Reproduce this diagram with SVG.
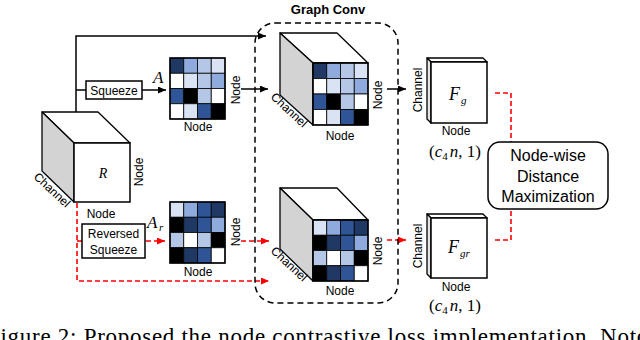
<svg xmlns="http://www.w3.org/2000/svg" width="640" height="340" viewBox="0 0 640 340">
<style>
.lbl{font-family:"Liberation Sans",Arial,sans-serif;font-size:12px;fill:#000}
.big{font-family:"Liberation Sans",Arial,sans-serif;font-size:16px;fill:#000}
.math{font-family:"Liberation Serif","Times New Roman",serif;font-style:italic;fill:#000}
.mathu{font-family:"Liberation Serif","Times New Roman",serif;fill:#000}
.edge{fill:none;stroke:#000;stroke-width:1.5}
.red{fill:none;stroke:#f00;stroke-width:1.6;stroke-dasharray:5 3}
.side{fill:#d3d3d3;stroke:#000;stroke-width:1.3;stroke-linejoin:round}
.top{fill:#fff;stroke:#000;stroke-width:1.3;stroke-linejoin:round}
.front{fill:#fff;stroke:#000;stroke-width:1.5}
.cell{stroke:#000;stroke-width:0.8}
.nv{fill:#203864}.bl{fill:#2f5597}.md{fill:#8faadc}.lt{fill:#b4c7e7}.vl{fill:#dae3f3}.wh{fill:#fff}.bk{fill:#000}
</style>
<defs>
<marker id="ah" markerUnits="userSpaceOnUse" markerWidth="8" markerHeight="7" refX="8" refY="3.5" orient="auto"><path d="M0,0 L8,3.5 L0,7 z" fill="#000"/></marker>
<marker id="ahr" markerUnits="userSpaceOnUse" markerWidth="8" markerHeight="7" refX="8" refY="3.5" orient="auto"><path d="M0,0 L8,3.5 L0,7 z" fill="#f00"/></marker>
<g id="matA">
<rect class="cell nv" x="0" y="0" width="13.75" height="15.25"/><rect class="cell md" x="13.75" y="0" width="13.75" height="15.25"/><rect class="cell lt" x="27.5" y="0" width="13.75" height="15.25"/><rect class="cell vl" x="41.25" y="0" width="13.75" height="15.25"/>
<rect class="cell wh" x="0" y="15.25" width="13.75" height="15.25"/><rect class="cell vl" x="13.75" y="15.25" width="13.75" height="15.25"/><rect class="cell lt" x="27.5" y="15.25" width="13.75" height="15.25"/><rect class="cell md" x="41.25" y="15.25" width="13.75" height="15.25"/>
<rect class="cell bl" x="0" y="30.5" width="13.75" height="15.25"/><rect class="cell bk" x="13.75" y="30.5" width="13.75" height="15.25"/><rect class="cell lt" x="27.5" y="30.5" width="13.75" height="15.25"/><rect class="cell wh" x="41.25" y="30.5" width="13.75" height="15.25"/>
<rect class="cell wh" x="0" y="45.75" width="13.75" height="15.25"/><rect class="cell vl" x="13.75" y="45.75" width="13.75" height="15.25"/><rect class="cell bl" x="27.5" y="45.75" width="13.75" height="15.25"/><rect class="cell bk" x="41.25" y="45.75" width="13.75" height="15.25"/>
<rect x="0" y="0" width="55" height="61" fill="none" stroke="#000" stroke-width="1.5"/>
</g>
<g id="matAr">
<rect class="cell vl" x="0" y="0" width="13.75" height="15.25"/><rect class="cell md" x="13.75" y="0" width="13.75" height="15.25"/><rect class="cell bl" x="27.5" y="0" width="13.75" height="15.25"/><rect class="cell nv" x="41.25" y="0" width="13.75" height="15.25"/>
<rect class="cell bk" x="0" y="15.25" width="13.75" height="15.25"/><rect class="cell nv" x="13.75" y="15.25" width="13.75" height="15.25"/><rect class="cell bl" x="27.5" y="15.25" width="13.75" height="15.25"/><rect class="cell md" x="41.25" y="15.25" width="13.75" height="15.25"/>
<rect class="cell lt" x="0" y="30.5" width="13.75" height="15.25"/><rect class="cell wh" x="13.75" y="30.5" width="13.75" height="15.25"/><rect class="cell lt" x="27.5" y="30.5" width="13.75" height="15.25"/><rect class="cell bk" x="41.25" y="30.5" width="13.75" height="15.25"/>
<rect class="cell bk" x="0" y="45.75" width="13.75" height="15.25"/><rect class="cell nv" x="13.75" y="45.75" width="13.75" height="15.25"/><rect class="cell bl" x="27.5" y="45.75" width="13.75" height="15.25"/><rect class="cell wh" x="41.25" y="45.75" width="13.75" height="15.25"/>
<rect x="0" y="0" width="55" height="61" fill="none" stroke="#000" stroke-width="1.5"/>
</g>
</defs>

<g id="connectors">
<path class="edge" d="M76,112 V36 H266" marker-end="url(#ah)"/>
<path class="edge" d="M76,90 H86"/>
<path class="edge" d="M142,90 H166" marker-end="url(#ah)"/>
<path class="edge" d="M241,89 H268" marker-end="url(#ah)"/>
<path class="edge" d="M387,89 H406" marker-end="url(#ah)"/>
<path class="red" d="M77,203 V281 H269" marker-end="url(#ahr)"/>
<path class="red" d="M77,241 H82"/>
<path class="red" d="M146,241 H165" marker-end="url(#ahr)"/>
<path class="red" d="M241,241 H269" marker-end="url(#ahr)"/>
<path class="red" d="M387,240 H406" marker-end="url(#ahr)"/>
<path class="red" d="M495,93 H511 V142"/>
<path class="red" d="M495,240 H511 V209"/>
</g>

<g id="graphconv">
<rect x="255" y="23" width="143" height="280" rx="20" fill="none" stroke="#000" stroke-width="1.5" stroke-dasharray="6 4"/>
<text x="328" y="14" text-anchor="middle" style="font-family:'Liberation Sans',Arial,sans-serif;font-size:13px;font-weight:bold">Graph Conv</text>
</g>

<g id="cubeR">
<polygon class="top" points="42,112 98,112 130,143 74,143"/>
<polygon class="side" points="42,112 74,143 74,202 42,171"/>
<rect class="front" x="74" y="143" width="56" height="59"/>
<text class="math" x="103" y="178" text-anchor="middle" font-size="14">R</text>
<text class="lbl" transform="translate(143,172) rotate(-90)" text-anchor="middle">Node</text>
<text class="lbl" x="101" y="218" text-anchor="middle">Node</text>
<text class="lbl" transform="translate(52,190) rotate(43)" text-anchor="middle" dominant-baseline="central">Channel</text>
</g>

<g id="squeeze">
<rect x="86" y="81" width="56" height="18" fill="#fff" stroke="#000" stroke-width="1.5"/>
<text class="lbl" x="114" y="94.5" text-anchor="middle">Squeeze</text>
</g>

<g id="revsqueeze">
<rect x="82" y="224" width="63" height="34" fill="#fff" stroke="#000" stroke-width="1.5"/>
<text class="lbl" x="113.5" y="238" text-anchor="middle">Reversed</text>
<text class="lbl" x="113.5" y="254" text-anchor="middle">Squeeze</text>
</g>

<g id="matrixA">
<text class="math" x="153" y="83" font-size="17">A</text>
<use href="#matA" transform="translate(170,58)"/>
<text class="lbl" transform="translate(239.5,90) rotate(-90)" text-anchor="middle">Node</text>
<text class="lbl" x="198" y="131" text-anchor="middle">Node</text>
</g>

<g id="matrixAr">
<text class="math" x="147" y="228" font-size="17">A</text>
<text class="math" x="159" y="231" font-size="11">r</text>
<use href="#matAr" transform="translate(170,202)"/>
<text class="lbl" transform="translate(239.5,232) rotate(-90)" text-anchor="middle">Node</text>
<text class="lbl" x="198" y="276" text-anchor="middle">Node</text>
</g>

<g id="cubeTop">
<polygon class="top" points="280,33 337,33 368,63 313,63"/>
<polygon class="side" points="280,33 313,63 313,125 280,95"/>
<use href="#matA" transform="translate(313,63) scale(1,1.016)"/>
<text class="lbl" transform="translate(382,95) rotate(-90)" text-anchor="middle">Node</text>
<text class="lbl" x="340" y="140" text-anchor="middle">Node</text>
<text class="lbl" transform="translate(289,110) rotate(43)" text-anchor="middle" dominant-baseline="central">Channel</text>
</g>

<g id="cubeBottom">
<polygon class="top" points="280,188 337,188 368,220 313,220"/>
<polygon class="side" points="280,188 313,220 313,281 280,249"/>
<use href="#matAr" transform="translate(313,220)"/>
<text class="lbl" transform="translate(382,251) rotate(-90)" text-anchor="middle">Node</text>
<text class="lbl" x="340" y="295" text-anchor="middle">Node</text>
<text class="lbl" transform="translate(289,264) rotate(43)" text-anchor="middle" dominant-baseline="central">Channel</text>
</g>

<g id="Fg">
<polygon class="top" points="427,58 483,58 487,62 431,62"/>
<polygon class="side" style="fill:#e6e6e6" points="427,58 431,62 431,123 427,119"/>
<rect class="front" x="431" y="62" width="56" height="61"/>
<text class="math" x="449" y="100" font-size="18">F</text>
<text class="math" x="461" y="104" font-size="11" fill="#555">g</text>
<text class="lbl" transform="translate(422,90) rotate(-90)" text-anchor="middle">Channel</text>
<text class="lbl" x="456" y="135" text-anchor="middle">Node</text>
<text class="mathu" x="455" y="157" text-anchor="middle" font-size="17">(<tspan class="math">c</tspan><tspan font-size="11" dy="3">4</tspan><tspan class="math" dy="-3" dx="2">n</tspan>, 1)</text>
</g>

<g id="Fgr">
<polygon class="top" points="427,214 483,214 487,218 431,218"/>
<polygon class="side" style="fill:#e6e6e6" points="427,214 431,218 431,278 427,274"/>
<rect class="front" x="431" y="218" width="56" height="60"/>
<text class="math" x="448" y="253" font-size="18">F</text>
<text class="math" x="460" y="257" font-size="11" fill="#555">gr</text>
<text class="lbl" transform="translate(422,246) rotate(-90)" text-anchor="middle">Channel</text>
<text class="lbl" x="456" y="291" text-anchor="middle">Node</text>
<text class="mathu" x="455" y="311" text-anchor="middle" font-size="17">(<tspan class="math">c</tspan><tspan font-size="11" dy="3">4</tspan><tspan class="math" dy="-3" dx="2">n</tspan>, 1)</text>
</g>

<g id="distmax">
<rect x="488" y="142" width="120" height="67" rx="12" fill="#fff" stroke="#000" stroke-width="1.5"/>
<text class="big" x="548" y="161" text-anchor="middle">Node-wise</text>
<text class="big" x="548" y="182" text-anchor="middle">Distance</text>
<text class="big" x="548" y="202" text-anchor="middle">Maximization</text>
</g>

<text class="mathu" x="-13" y="344" font-size="23" textLength="660" lengthAdjust="spacing" style="font-style:normal">Figure 2: Proposed the node contrastive loss implementation. Note</text>
</svg>
